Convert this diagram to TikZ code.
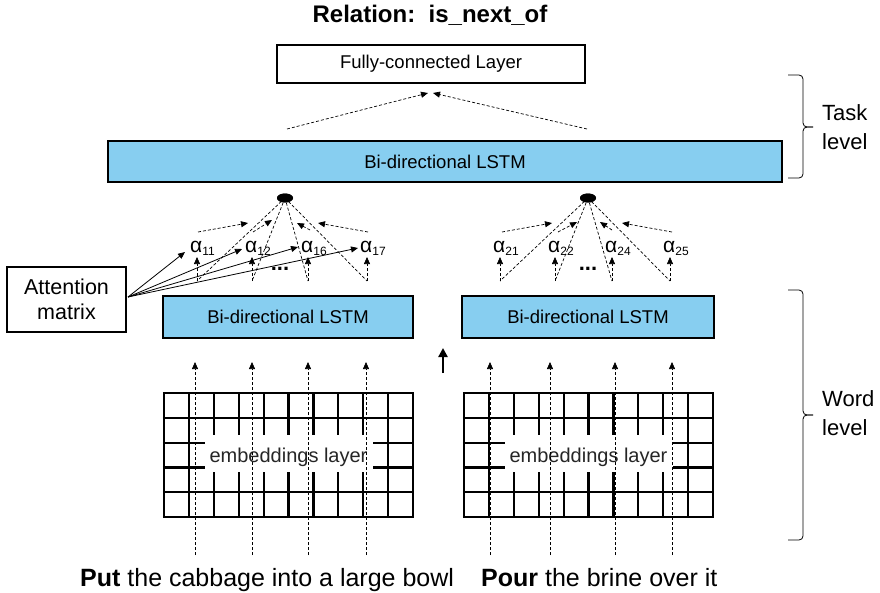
\documentclass[tikz,border=0pt]{standalone}
\usepackage{fontspec}
\setmainfont{Liberation Sans}
\usetikzlibrary{arrows.meta,shapes.geometric}
\definecolor{lstmblue}{RGB}{135,206,240}
\newcommand\fs[1]{\fontsize{#1}{#1}\selectfont}
\newcommand\alab[1]{{\fs{21}α}{\fs{12}\raisebox{-3.5pt}{#1}}}
\begin{document}
\begin{tikzpicture}[x=1pt,y=-1pt,
  dsh/.style={dash pattern=on 3pt off 2pt, line width=0.7pt},
  tip/.style={-{Triangle[length=7pt,width=6pt]}},
  box/.style={draw, line width=2.5pt, inner sep=0pt},
  lstm/.style={box, fill=lstmblue},
  gridline/.style={line width=2.2pt},
  hub/.style={ellipse, fill=black, minimum width=16pt, minimum height=9pt, inner sep=0pt},
  alpha/.style={anchor=base west, inner sep=0pt},
  bracepath/.style={line width=0.8pt, rounded corners=4pt}]
\useasboundingbox (0,0) rectangle (880,592);

% title
\node[font=\fs{24}\bfseries, anchor=base] (title) at (430,22) {Relation:\ \ is\_next\_of};

% fully connected
\node[box, minimum width=308pt, minimum height=38pt, font=\fs{18.5}] (fc) at (431,64) {Fully-connected Layer};
% top lstm
\node[lstm, minimum width=674pt, minimum height=41pt, font=\fs{18.5}] (top) at (445,161.5) {Bi-directional LSTM};
\coordinate (fs1) at (287,129);
\coordinate (fs2) at (587,129);
\coordinate (fe1) at (428,93);
\coordinate (fe2) at (433,93);
\draw[dsh,tip] (fs1) -- (fe1);
\draw[dsh,tip] (fs2) -- (fe2);

% word-level lstms
\node[lstm, minimum width=250pt, minimum height=42pt, font=\fs{18.5}] (lstmL) at (288,317) {Bi-directional LSTM};
\node[lstm, minimum width=252pt, minimum height=42pt, font=\fs{18.5}] (lstmR) at (588,317) {Bi-directional LSTM};

% attention matrix
\node[box, line width=2.2pt, minimum width=119pt, minimum height=65pt, font=\fs{21.5}, align=center] (att) at (66.5,299.5) {Attention\\[3pt]matrix};

% ---- left attention block
\foreach \n/\x/\lab in {1/197/11, 2/252/12, 3/308/16, 4/367/17}{
  \coordinate (bL\n) at (\x,281);
  \coordinate (tL\n) at (\x,257);
  \node[alpha] (aL\n) at (\x-7,252) {\alab{\lab}};
  \draw[dsh,tip] (bL\n) -- (tL\n);
}
\node[hub] (hubL) at (285,198) {};
\foreach \n in {1,...,4}{ \draw[dsh] (hubL.center) -- (bL\n); }
\foreach \n/\sx/\sy/\ex/\ey in {1/198/232/248/223, 2/253/232/272/220, 3/310/230/297/223, 4/368/232/318/223}{
  \coordinate (iLs\n) at (\sx,\sy);
  \coordinate (iLe\n) at (\ex,\ey);
  \draw[dsh,tip] (iLs\n) -- (iLe\n);
}
\node[hub] at (hubL) {};
\node[font=\fs{22}\bfseries] (dotsL) at (280,269) {...};

% ---- right attention block
\foreach \n/\x/\lab in {1/500/21, 2/555/22, 3/612/24, 4/670/25}{
  \coordinate (bR\n) at (\x,281);
  \coordinate (tR\n) at (\x,257);
  \node[alpha] (aR\n) at (\x-7,252) {\alab{\lab}};
  \draw[dsh,tip] (bR\n) -- (tR\n);
}
\node[hub] (hubR) at (588,198) {};
\foreach \n in {1,...,4}{ \draw[dsh] (hubR.center) -- (bR\n); }
\foreach \n/\sx/\sy/\ex/\ey in {1/502/232/552/223, 2/558/232/577/222, 3/612/230/600/222, 4/672/232/622/223}{
  \coordinate (iRs\n) at (\sx,\sy);
  \coordinate (iRe\n) at (\ex,\ey);
  \draw[dsh,tip] (iRs\n) -- (iRe\n);
}
\node[hub] at (hubR) {};
\node[font=\fs{22}\bfseries] (dotsR) at (588,269) {...};

% attention matrix arrows
\coordinate (attO) at (128,297);
\foreach \ex/\ey in {185/252, 242/249, 298/247, 358/248}{
  \draw[line width=0.8pt, -{Triangle[length=7pt,width=6pt]}] (attO) -- (\ex,\ey);
}

% embedding grids
\foreach \gx/\nm in {164/L, 464/R}{
  \begin{scope}[shift={(\gx,393)}]
    \foreach \i in {0,...,10} \draw[gridline] (\i*24.9,0) -- (\i*24.9,124);
    \foreach \j in {0,...,5} \draw[gridline] (-1.1,\j*24.8) -- (250.1,\j*24.8);
    \fill[white] (41,42) rectangle (209,79);
    \node[font=\fs{20}, text=black!85] (emb\nm) at (124.5,64) {embeddings layer};
  \end{scope}
}

% word-level dashed arrows
\foreach \n/\x in {1/195, 2/252, 3/308, 4/366, 5/490, 6/550, 7/615, 8/672}{
  \coordinate (ws\n) at (\x,555);
  \coordinate (we\n) at (\x,362);
  \draw[dsh,tip] (ws\n) -- (we\n);
}

% middle arrow
\coordinate (ma) at (443,373);
\coordinate (mb) at (443,348);
\draw[line width=2.4pt, -{Triangle[length=9pt,width=9pt]}] (ma) -- (mb);

% sentences
\node[anchor=base west, inner sep=0pt, font=\fs{25}] (s1) at (80,586) {\textbf{Put} the cabbage into a large bowl};
\node[anchor=base west, inner sep=0pt, font=\fs{25}] (s2) at (481,586) {\textbf{Pour} the brine over it};

% braces
\draw[bracepath] (788,75) -- (803,75) -- (803,127) -- (813,127);
\draw[bracepath] (813,127) -- (803,127) -- (803,178) -- (788,178);
\node[anchor=west, align=left, font=\fs{22}, inner sep=0pt] (task) at (822,127) {Task\\[7pt]level};

\draw[bracepath] (788,290) -- (803,290) -- (803,415) -- (813,415);
\draw[bracepath] (813,415) -- (803,415) -- (803,540) -- (788,540);
\node[anchor=west, align=left, font=\fs{22}, inner sep=0pt] (word) at (822,413) {Word\\[7pt]level};
\end{tikzpicture}
\end{document}
